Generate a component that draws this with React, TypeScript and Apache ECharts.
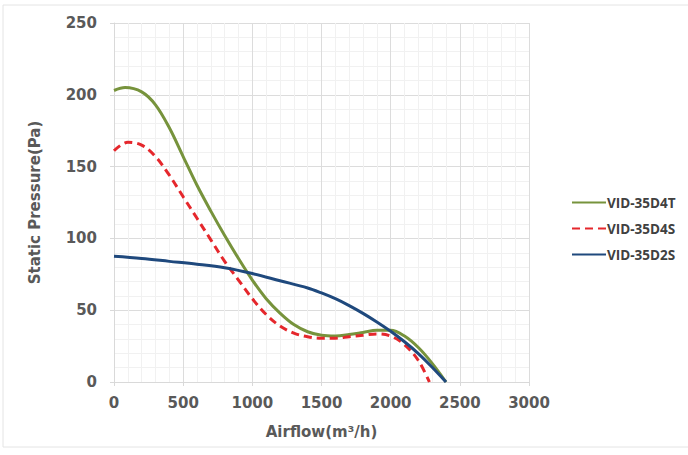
import React, { useEffect, useRef } from "react";
import * as echarts from "echarts";

const airflowT = [0, 80, 200, 300, 400, 500, 600, 700, 800, 900, 1000, 1100, 1200, 1300, 1400, 1500, 1600, 1700, 1800, 1900, 2000, 2100, 2200, 2300, 2400];
const pressureT = [203, 205, 202, 193, 177, 157, 137, 119, 102, 86, 71, 58, 48, 40, 35, 32.5, 32, 33, 34.5, 36, 36, 32, 24, 13, 0];

const airflowS = [0, 100, 200, 300, 400, 500, 600, 700, 800, 900, 1000, 1100, 1200, 1300, 1400, 1500, 1600, 1700, 1800, 1900, 2000, 2100, 2200, 2280];
const pressureS = [161, 167, 165, 157, 144, 129, 114, 99, 84, 71, 58, 47, 39, 34, 31.5, 30.5, 30.5, 31.5, 32.5, 33.5, 32, 26, 15, 0];

const airflow2 = [0, 200, 400, 600, 800, 1000, 1200, 1400, 1500, 1600, 1700, 1800, 1900, 2000, 2100, 2200, 2300, 2400];
const pressure2 = [87.5, 86, 84, 82, 79.5, 75.5, 70.5, 65.5, 62, 58, 53.2, 47.8, 41.8, 35.3, 28, 19.8, 10.3, 0];

const seriesNames = ["VID-35D4T", "VID-35D4S", "VID-35D2S"];
const xTicks = { min: 0, max: 3000, interval: 500 };
const yTicks = { min: 0, max: 250, interval: 50 };

const pair = (xs: number[], ys: number[]) => xs.map((x, i) => [x, ys[i]]);

export default function App() {
  const ref = useRef<HTMLDivElement>(null);
  useEffect(() => {
    if (!ref.current) return;
    const chart = echarts.init(ref.current, undefined, { renderer: "svg" });
    const axisFont = { fontFamily: "DejaVu Sans", fontWeight: "bold" as const, color: "#595959", fontSize: 15 };
    chart.setOption({
      animation: false,
      backgroundColor: "#ffffff",
      graphic: [
        {
          type: "rect",
          shape: { x: 3, y: 5, width: 700, height: 442 },
          style: { fill: "none", stroke: "#e4e4e4", lineWidth: 1 },
          silent: true,
        },
      ],
      grid: { left: 114, right: 159, top: 23, bottom: 73, containLabel: false },
      legend: {
        orient: "vertical",
        left: 571,
        top: 195.5,
        padding: 0,
        itemWidth: 34,
        itemHeight: 12,
        itemGap: 12,
        data: seriesNames,
        itemStyle: { opacity: 0 },
        textStyle: { fontFamily: "Open Sans", fontWeight: "bold", fontSize: 13.5, color: "#404040", padding: [0, 0, 0, -4] },
      },
      xAxis: {
        type: "value",
        min: xTicks.min,
        max: xTicks.max,
        interval: xTicks.interval,
        name: "Airflow(m³/h)",
        nameLocation: "middle",
        nameGap: 42,
        nameTextStyle: axisFont,
        axisLine: { show: true, lineStyle: { color: "#d9d9d9" } },
        axisTick: { show: true, length: 4, lineStyle: { color: "#d9d9d9" } },
        axisLabel: { ...axisFont, margin: 13, formatter: (v: number) => String(v) },
        splitLine: { show: true, lineStyle: { color: "#dcdcdc" } },
        minorTick: { show: false, splitNumber: 5 },
        minorSplitLine: { show: true, lineStyle: { color: "#f1f1f1" } },
      },
      yAxis: {
        type: "value",
        min: yTicks.min,
        max: yTicks.max,
        interval: yTicks.interval,
        name: "Static Pressure(Pa)",
        nameLocation: "middle",
        nameGap: 72,
        nameTextStyle: axisFont,
        axisLine: { show: true, lineStyle: { color: "#d9d9d9" } },
        axisTick: { show: true, length: 4, lineStyle: { color: "#d9d9d9" } },
        axisLabel: { ...axisFont, margin: 17, formatter: (v: number) => String(v) },
        splitLine: { show: true, lineStyle: { color: "#dcdcdc" } },
        minorTick: { show: false, splitNumber: 5 },
        minorSplitLine: { show: true, lineStyle: { color: "#f1f1f1" } },
      },
      series: [
        {
          name: seriesNames[0],
          type: "line",
          smooth: 0.35,
          symbol: "none",
          data: pair(airflowT, pressureT),
          lineStyle: { color: "#77933C", width: 3 },
          itemStyle: { color: "#77933C" },
          z: 3,
        },
        {
          name: seriesNames[1],
          type: "line",
          smooth: 0.35,
          symbol: "none",
          data: pair(airflowS, pressureS),
          lineStyle: { color: "#E5272C", width: 3, type: [8, 5] },
          itemStyle: { color: "#E5272C" },
          z: 4,
        },
        {
          name: seriesNames[2],
          type: "line",
          smooth: 0.35,
          symbol: "none",
          data: pair(airflow2, pressure2),
          lineStyle: { color: "#1F497D", width: 3 },
          itemStyle: { color: "#1F497D" },
          z: 5,
        },
      ],
    });
    return () => chart.dispose();
  }, []);
  return <div ref={ref} style={{ width: 688, height: 455, position: "absolute", left: 0, top: 0 }} />;
}
